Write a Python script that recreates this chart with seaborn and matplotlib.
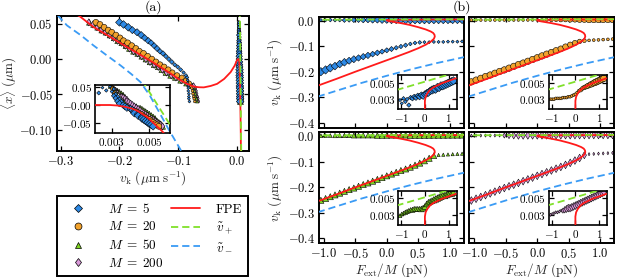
import numpy as np
import pandas as pd
import matplotlib
matplotlib.use("Agg")
import matplotlib.pyplot as plt
from matplotlib.lines import Line2D
import seaborn as sns

# force per motor F_ext/M (pN), same grid for every run
f_ext = [-1.05, -0.975, -0.9, -0.825, -0.75, -0.675, -0.6, -0.525, -0.45, -0.375,
         -0.3, -0.225, -0.15, -0.075, 0.0, 0.075, 0.15, 0.225, 0.3, 0.375,
         0.45, 0.525, 0.6, 0.675, 0.75, 0.825, 0.9, 0.975, 1.05, 1.125, 1.2]
# mean position <x> (um) at each force
x_mean = [0.052, 0.049, 0.045, 0.041, 0.038, 0.034, 0.030, 0.026, 0.023, 0.019,
          0.015, 0.011, 0.008, 0.004, 0.000, -0.004, -0.008, -0.011, -0.015, -0.019,
          -0.023, -0.026, -0.030, -0.034, -0.038, -0.041, -0.045, -0.049, -0.053, -0.056, -0.060]

# velocity of the slow (lower) and fast (upper) branch, um/s, plus marker extent (pt)
v_low_m5 = [-0.200, -0.193, -0.185, -0.178, -0.170, -0.163, -0.157, -0.151, -0.146, -0.141,
            -0.136, -0.131, -0.126, -0.121, -0.116, -0.111, -0.106, -0.101, -0.096, -0.091,
            -0.087, -0.085, -0.084, -0.084, -0.083, -0.083, -0.083, -0.082, -0.082, -0.082, -0.081]
v_up_m5 = [0.0029, 0.0025, 0.0031, 0.0027, 0.0030, 0.0023, 0.0032, 0.0031, 0.0033, 0.0032,
           0.0034, 0.0033, 0.0035, 0.0034, 0.0036, 0.0037, 0.0038, 0.0040, 0.0041, 0.0042,
           0.0042, 0.0044, 0.0044, 0.0046, 0.0046, 0.0047, 0.0048, 0.0049, 0.0050, 0.0051, 0.0052]
ms_low_m5 = [6.5, 6.5, 6.5, 6.0, 6.0, 6.0, 5.5, 5.5, 5.0, 5.0, 5.0, 4.5, 4.5, 4.0, 4.0, 4.0,
             3.5, 3.5, 3.5, 3.0, 3.0, 3.0, 2.5, 2.5, 2.5, 2.5, 2.5, 2.5, 2.5, 2.5, 2.5]
ms_up_m5 = [2.5, 2.5, 3.0, 3.0, 3.0, 3.5, 3.5, 4.0, 4.0, 4.5, 4.5, 5.0, 5.0, 5.5, 5.5, 6.0,
            6.0, 6.0, 6.5, 6.5, 6.5, 6.5, 6.5, 6.5, 6.5, 6.5, 6.5, 6.5, 6.5, 6.5, 6.5]

v_low_m20 = [-0.240, -0.233, -0.226, -0.219, -0.213, -0.206, -0.199, -0.193, -0.186, -0.179,
             -0.172, -0.166, -0.159, -0.152, -0.145, -0.138, -0.131, -0.124, -0.117, -0.110,
             -0.102, -0.094, -0.087, -0.081, -0.078, -0.077, -0.076, -0.075, -0.074, -0.073, -0.072]
v_up_m20 = [0.0030, 0.0030, 0.0030, 0.0031, 0.0031, 0.0031, 0.0031, 0.0032, 0.0032, 0.0032,
            0.0033, 0.0033, 0.0034, 0.0035, 0.0036, 0.0038, 0.0040, 0.0041, 0.0043, 0.0044,
            0.0045, 0.0046, 0.0047, 0.0048, 0.0049, 0.0050, 0.0051, 0.0052, 0.0053, 0.0054, 0.0055]
ms_low_m20 = [5.0, 5.0, 5.0, 5.0, 5.0, 5.0, 5.0, 5.0, 5.0, 5.0, 5.0, 5.0, 5.0, 5.0, 5.0, 5.0,
              5.0, 4.8, 4.8, 4.5, 4.5, 4.2, 4.0, 3.5, 3.0, 2.2, 2.2, 2.2, 2.2, 2.2, 2.2]
ms_up_m20 = [2.2, 2.2, 2.2, 2.2, 2.2, 2.2, 2.2, 2.2, 2.2, 2.2, 2.2, 2.2, 2.2, 2.2, 2.2, 2.2,
             2.5, 3.0, 3.0, 3.5, 3.5, 4.0, 4.0, 4.5, 4.5, 5.0, 5.0, 5.0, 5.0, 5.0, 5.0]

v_low_m50 = [-0.251, -0.244, -0.237, -0.230, -0.223, -0.216, -0.209, -0.203, -0.196, -0.189,
             -0.183, -0.176, -0.169, -0.162, -0.155, -0.148, -0.141, -0.134, -0.128, -0.121,
             -0.113, -0.105, -0.096, -0.086, -0.076, -0.073, -0.072, -0.071, -0.070, -0.069, -0.068]
v_up_m50 = [0.0029, 0.0031, 0.0032, 0.0033, 0.0034, 0.0035, 0.0036, 0.0036, 0.0037, 0.0037,
            0.0037, 0.0037, 0.0037, 0.0038, 0.0040, 0.0043, 0.0045, 0.0046, 0.0047, 0.0048,
            0.0049, 0.0050, 0.0051, 0.0052, 0.0053, 0.0053, 0.0054, 0.0055, 0.0056, 0.0056, 0.0057]
ms_low_m50 = [4.8, 4.8, 4.8, 4.8, 4.8, 4.8, 4.8, 4.8, 4.8, 4.8, 4.8, 4.8, 4.8, 4.8, 4.8, 4.8,
              4.8, 4.8, 4.8, 4.8, 4.8, 4.8, 4.8, 4.8, 4.5, 2.5, 2.5, 2.5, 2.5, 2.5, 2.5]
ms_up_m50 = [3.0, 3.0, 3.0, 3.5, 3.5, 3.5, 3.5, 4.0, 4.0, 4.0, 4.0, 4.0, 4.5, 4.5, 4.5, 4.5,
             4.5, 4.5, 4.5, 5.0, 5.0, 5.0, 5.0, 5.0, 5.0, 5.0, 5.0, 5.0, 5.0, 5.0, 5.0]

v_low_m200 = [-0.252, -0.245, -0.238, -0.231, -0.224, -0.217, -0.210, -0.203, -0.196, -0.190,
              -0.183, -0.176, -0.169, -0.162, -0.155, -0.148, -0.141, -0.134, -0.127, -0.120,
              -0.112, -0.104, -0.095, -0.085, -0.074, -0.070, -0.069, -0.068, -0.067, -0.066, -0.065]
v_up_m200 = [0.0030, 0.0031, 0.0032, 0.0033, 0.0033, 0.0034, 0.0035, 0.0035, 0.0036, 0.0037,
             0.0038, 0.0038, 0.0039, 0.0040, 0.0041, 0.0042, 0.0043, 0.0044, 0.0045, 0.0046,
             0.0047, 0.0048, 0.0049, 0.0050, 0.0051, 0.0052, 0.0053, 0.0054, 0.0055, 0.0056, 0.0057]
ms_low_m200 = [6.0, 6.0, 6.0, 6.0, 6.0, 6.0, 6.0, 6.0, 6.0, 6.0, 6.0, 6.0, 6.0, 6.0, 6.0, 6.0,
               6.0, 6.0, 6.0, 6.0, 6.0, 6.0, 6.0, 6.0, 5.5, 2.5, 2.5, 2.5, 2.5, 2.5, 2.5]
ms_up_m200 = [2.5, 2.5, 2.5, 2.5, 2.5, 2.5, 2.5, 4.0, 5.0, 5.5, 6.0, 6.0, 6.0, 6.0, 6.0, 6.0,
              6.0, 6.0, 6.0, 6.0, 6.0, 6.0, 6.0, 6.0, 6.0, 6.0, 6.0, 6.0, 6.0, 6.0, 6.0]

# Fokker-Planck solution and the two mean-field branches, panel (b): (F_ext/M, v_k)
fpe_b_f = [-1.10, -0.80, -0.50, -0.20, 0.10, 0.35, 0.50, 0.62, 0.70, 0.75, 0.765, 0.76, 0.74,
           0.70, 0.62, 0.50, 0.36, 0.22, 0.10, 0.03, 0.0, 0.0, 0.03, 0.10, 0.21, 0.35, 0.49,
           0.70, 0.90, 1.10, 1.30]
fpe_b_v = [-0.255, -0.228, -0.200, -0.173, -0.146, -0.123, -0.108, -0.094, -0.082, -0.071,
           -0.062, -0.055, -0.048, -0.042, -0.034, -0.025, -0.016, -0.009, -0.004, -0.001,
           0.0010, 0.0028, 0.0033, 0.0037, 0.0041, 0.0044, 0.0046, 0.0049, 0.0051, 0.0053, 0.0055]
vminus_b_f = [-1.10, -0.75, -0.40, 0.0, 0.40, 0.80, 1.30]
vminus_b_v = [-0.298, -0.271, -0.244, -0.216, -0.190, -0.166, -0.139]
vplus_b_f = [-1.20, 0.0, 1.30]
vplus_b_v = [0.0041, 0.0051, 0.0062]

# same curves in panel (a): (v_k, <x>)
fpe_a_v = [-0.285, -0.267, -0.244, -0.215, -0.187, -0.158, -0.130, -0.112, -0.096, -0.085,
           -0.074, -0.065, -0.0566, -0.045, -0.034, -0.022, -0.011, -0.004, -0.001, 0.0005,
           0.0022, 0.0029, 0.0033, 0.0037, 0.0041, 0.0044, 0.0046, 0.0049, 0.0051, 0.0053,
           0.0055, 0.0057, 0.0059, 0.0062, 0.0065]
fpe_a_x = [0.069, 0.0603, 0.0453, 0.031, 0.017, 0.003, -0.0113, -0.021, -0.030, -0.035,
           -0.0388, -0.0398, -0.040, -0.038, -0.035, -0.028, -0.0184, -0.009, -0.003, -0.0005,
           0.0, 0.0, -0.0015, -0.005, -0.0105, -0.0175, -0.0245, -0.035, -0.045, -0.055,
           -0.065, -0.075, -0.088, -0.105, -0.135]
vminus_a_v = [-0.305, -0.289, -0.266, -0.244, -0.221, -0.198, -0.180, -0.164, -0.148, -0.133,
              -0.116, -0.096, -0.090]
vminus_a_x = [0.062, 0.0476, 0.034, 0.0193, 0.005, -0.009, -0.021, -0.0326, -0.052, -0.0742,
              -0.100, -0.1283, -0.140]
vplus_a_v = [0.0046, 0.0062, 0.0071]
vplus_a_x = [0.070, -0.064, -0.140]

# ticks
a_xticks = [-0.3, -0.2, -0.1, 0.0]
a_xlabels = [r"$-0.3$", r"$-0.2$", r"$-0.1$", r"$0.0$"]
a_yticks = [0.05, 0.0, -0.05, -0.10]
a_ylabels = [r"$0.05$", r"$0.00$", r"$-0.05$", r"$-0.10$"]
a_in_xticks = [0.003, 0.005]
a_in_xlabels = [r"$0.003$", r"$0.005$"]
a_in_yticks = [0.05, 0.0, -0.05]
a_in_ylabels = [r"$0.05$", r"$-0.00$", r"$-0.05$"]
b_xticks = [-1.0, -0.5, 0.0, 0.5, 1.0]
b_xlabels = [r"$-1.0$", r"$-0.5$", r"$0.0$", r"$0.5$", r"$1.0$"]
b_yticks = [0.0, -0.1, -0.2, -0.3, -0.4]
b_ylabels = [r"$0.0$", r"$-0.1$", r"$-0.2$", r"$-0.3$", r"$-0.4$"]
b_in_xticks = [-1, 0, 1]
b_in_xlabels = [r"$-1$", r"$0$", r"$1$"]
b_in_yticks = [0.003, 0.005]
b_in_ylabels = [r"$0.003$", r"$0.005$"]

RED = "#ff1a1a"
GREEN = "#80e02a"
BLUE = "#3a9bf5"
run_style = {5: ("D", "#2e8ae6", 1.41), 20: ("o", "#f2a22c", 1.0),
             50: ("^", "#7ed321", 1.0), 200: ("d", "#d898d8", 1.41)}
runs = {5: (v_low_m5, v_up_m5, ms_low_m5, ms_up_m5),
        20: (v_low_m20, v_up_m20, ms_low_m20, ms_up_m20),
        50: (v_low_m50, v_up_m50, ms_low_m50, ms_up_m50),
        200: (v_low_m200, v_up_m200, ms_low_m200, ms_up_m200)}

frames = []
for m, (vl, vu, sl, su) in runs.items():
    for branch, v, ms in (("low", vl, sl), ("up", vu, su)):
        frames.append(pd.DataFrame({"M": m, "branch": branch, "F": f_ext,
                                    "x": x_mean, "v": v, "ms": ms}))
df = pd.concat(frames, ignore_index=True)

sns.set_style("ticks")
plt.rcParams.update({
    "font.family": "cmr10",
    "mathtext.fontset": "cm",
    "axes.unicode_minus": False,
    "axes.edgecolor": "k",
    "text.color": "k",
    "xtick.color": "k",
    "ytick.color": "k",
    "xtick.direction": "in",
    "ytick.direction": "in",
    "xtick.top": True,
    "ytick.right": True,
})


def scatter_runs(ax, sub, xcol, ycol, order, scale=0.92):
    for m in order:
        d = sub[sub["M"] == m]
        marker, color, k = run_style[m]
        sns.scatterplot(data=d, x=xcol, y=ycol, marker=marker, color=color,
                        s=((d["ms"] * scale / k) ** 2).to_numpy(), edgecolor="k",
                        linewidth=0.4, legend=False, ax=ax, zorder=2)


def curve(ax, xs, ys, color, dashed=False):
    sns.lineplot(x=xs, y=ys, sort=False, estimator=None, color=color, lw=1.3,
                 linestyle=(0, (4, 2.2)) if dashed else "-", ax=ax,
                 zorder=4 if dashed else 3)


def frame(ax, lw, size):
    ax.tick_params(direction="in", top=True, right=True, length=3.5, width=0.9,
                   labelsize=size, pad=3)
    for sp in ax.spines.values():
        sp.set_linewidth(lw)
        sp.set_color("k")
    ax.set_xlabel("")
    ax.set_ylabel("")


unit_v = r"$v_\mathrm{k}\ (\mathrm{\mu m\;s^{-1}})$"

fig = plt.figure(figsize=(6.17, 2.79), dpi=100)

# ---- panel (a)
ax_a = fig.add_axes([0.0924, 0.4588, 0.311, 0.4839])
order_a = [50, 200, 20, 5]
scatter_runs(ax_a, df, "v", "x", order_a, scale=0.85)
curve(ax_a, fpe_a_v, fpe_a_x, RED)
curve(ax_a, vplus_a_v, vplus_a_x, GREEN, True)
curve(ax_a, vminus_a_v, vminus_a_x, BLUE, True)
frame(ax_a, 1.4, 9)
ax_a.set_xlim(-0.306, 0.020)
ax_a.set_ylim(-0.13, 0.061)
ax_a.set_xticks(a_xticks, a_xlabels)
ax_a.set_yticks(a_yticks, a_ylabels)
ax_a.set_xlabel(unit_v, fontsize=9.5, labelpad=1)
ax_a.set_ylabel(r"$\langle x\rangle\ (\mathrm{\mu m})$", fontsize=9.5, labelpad=0)

ins_a = ax_a.inset_axes([0.198, 0.133, 0.391, 0.356])
ins_a.set_facecolor("none")
scatter_runs(ins_a, df[df["branch"] == "up"], "v", "x", order_a, scale=0.85)
curve(ins_a, fpe_a_v, fpe_a_x, RED)
curve(ins_a, vplus_a_v, vplus_a_x, GREEN, True)
frame(ins_a, 1.2, 8)
ins_a.set_xlim(0.0021, 0.0061)
ins_a.set_ylim(-0.079, 0.0565)
ins_a.set_xticks(a_in_xticks, a_in_xlabels)
ins_a.set_yticks(a_in_yticks, a_in_ylabels)
ins_a.tick_params(pad=2)

# ---- legend box under (a)
ax_leg = fig.add_axes([0.0929, 0.0025, 0.3096, 0.296])
ax_leg.axis("off")
handles = [Line2D([], [], ls="", marker=run_style[m][0], mfc=run_style[m][1], mec="k",
                  mew=0.5, ms=5.0 / run_style[m][2] + (1 if run_style[m][2] > 1 else 0))
           for m in (5, 20, 50, 200)]
handles += [Line2D([], [], color=RED, lw=1.3),
            Line2D([], [], color=GREEN, lw=1.3, ls=(0, (4, 2.2))),
            Line2D([], [], color=BLUE, lw=1.3, ls=(0, (4, 2.2)))]
labels = [r"$M\;=\;5$", r"$M\;=\;20$", r"$M\;=\;50$", r"$M\;=\;200$",
          "FPE", r"$\tilde{v}_+$", r"$\tilde{v}_-$"]
leg = ax_leg.legend(handles, labels, loc="upper left", bbox_to_anchor=(0, 0, 1, 1),
                    mode="expand", ncol=2, borderaxespad=0, fontsize=9.5,
                    labelspacing=0.36, handlelength=2.2, handletextpad=1.2,
                    borderpad=0.45, fancybox=False, framealpha=1)
leg.get_frame().set_edgecolor("k")
leg.get_frame().set_linewidth(1.4)

# ---- panel (b)
b_left = [0.517, 0.7609]
b_bottom = [0.5423, 0.128]
b_w, b_h = 0.235, 0.3978
for m, r, c in [(5, 0, 0), (20, 0, 1), (50, 1, 0), (200, 1, 1)]:
    ax = fig.add_axes([b_left[c], b_bottom[r], b_w, b_h])
    d = df[df["M"] == m]
    scatter_runs(ax, d, "F", "v", [m])
    curve(ax, fpe_b_f, fpe_b_v, RED)
    curve(ax, vplus_b_f, vplus_b_v, GREEN, True)
    curve(ax, vminus_b_f, vminus_b_v, BLUE, True)
    frame(ax, 1.4, 9)
    ax.set_xlim(-1.08, 1.23)
    ax.set_ylim(-0.42, 0.016)
    ax.set_xticks(b_xticks, b_xlabels)
    ax.set_yticks(b_yticks, b_ylabels)
    if r == 0:
        ax.tick_params(labelbottom=False)
    else:
        ax.set_xlabel(r"$F_\mathrm{ext}/M\ (\mathrm{pN})$", fontsize=9.5, labelpad=0)
    if c == 1:
        ax.tick_params(labelleft=False)
    else:
        ax.set_ylabel(unit_v, fontsize=9.5, labelpad=2)

    ins = ax.inset_axes([0.547, 0.166, 0.403, 0.309])
    scatter_runs(ins, d[d["branch"] == "up"], "F", "v", [m])
    curve(ins, fpe_b_f, fpe_b_v, RED)
    curve(ins, vplus_b_f, vplus_b_v, GREEN, True)
    frame(ins, 1.2, 8)
    ins.set_xlim(-1.12, 1.34)
    ins.set_ylim(0.0018, 0.0059)
    ins.set_xticks(b_in_xticks, b_in_xlabels)
    ins.set_yticks(b_in_yticks, b_in_ylabels)
    ins.tick_params(pad=2)

fig.text(153 / 617, 1 - 7 / 279, "(a)", ha="center", va="center", fontsize=10)
fig.text(462 / 617, 1 - 7 / 279, "(b)", ha="center", va="center", fontsize=10)

fig.savefig("out.png", dpi=100)
